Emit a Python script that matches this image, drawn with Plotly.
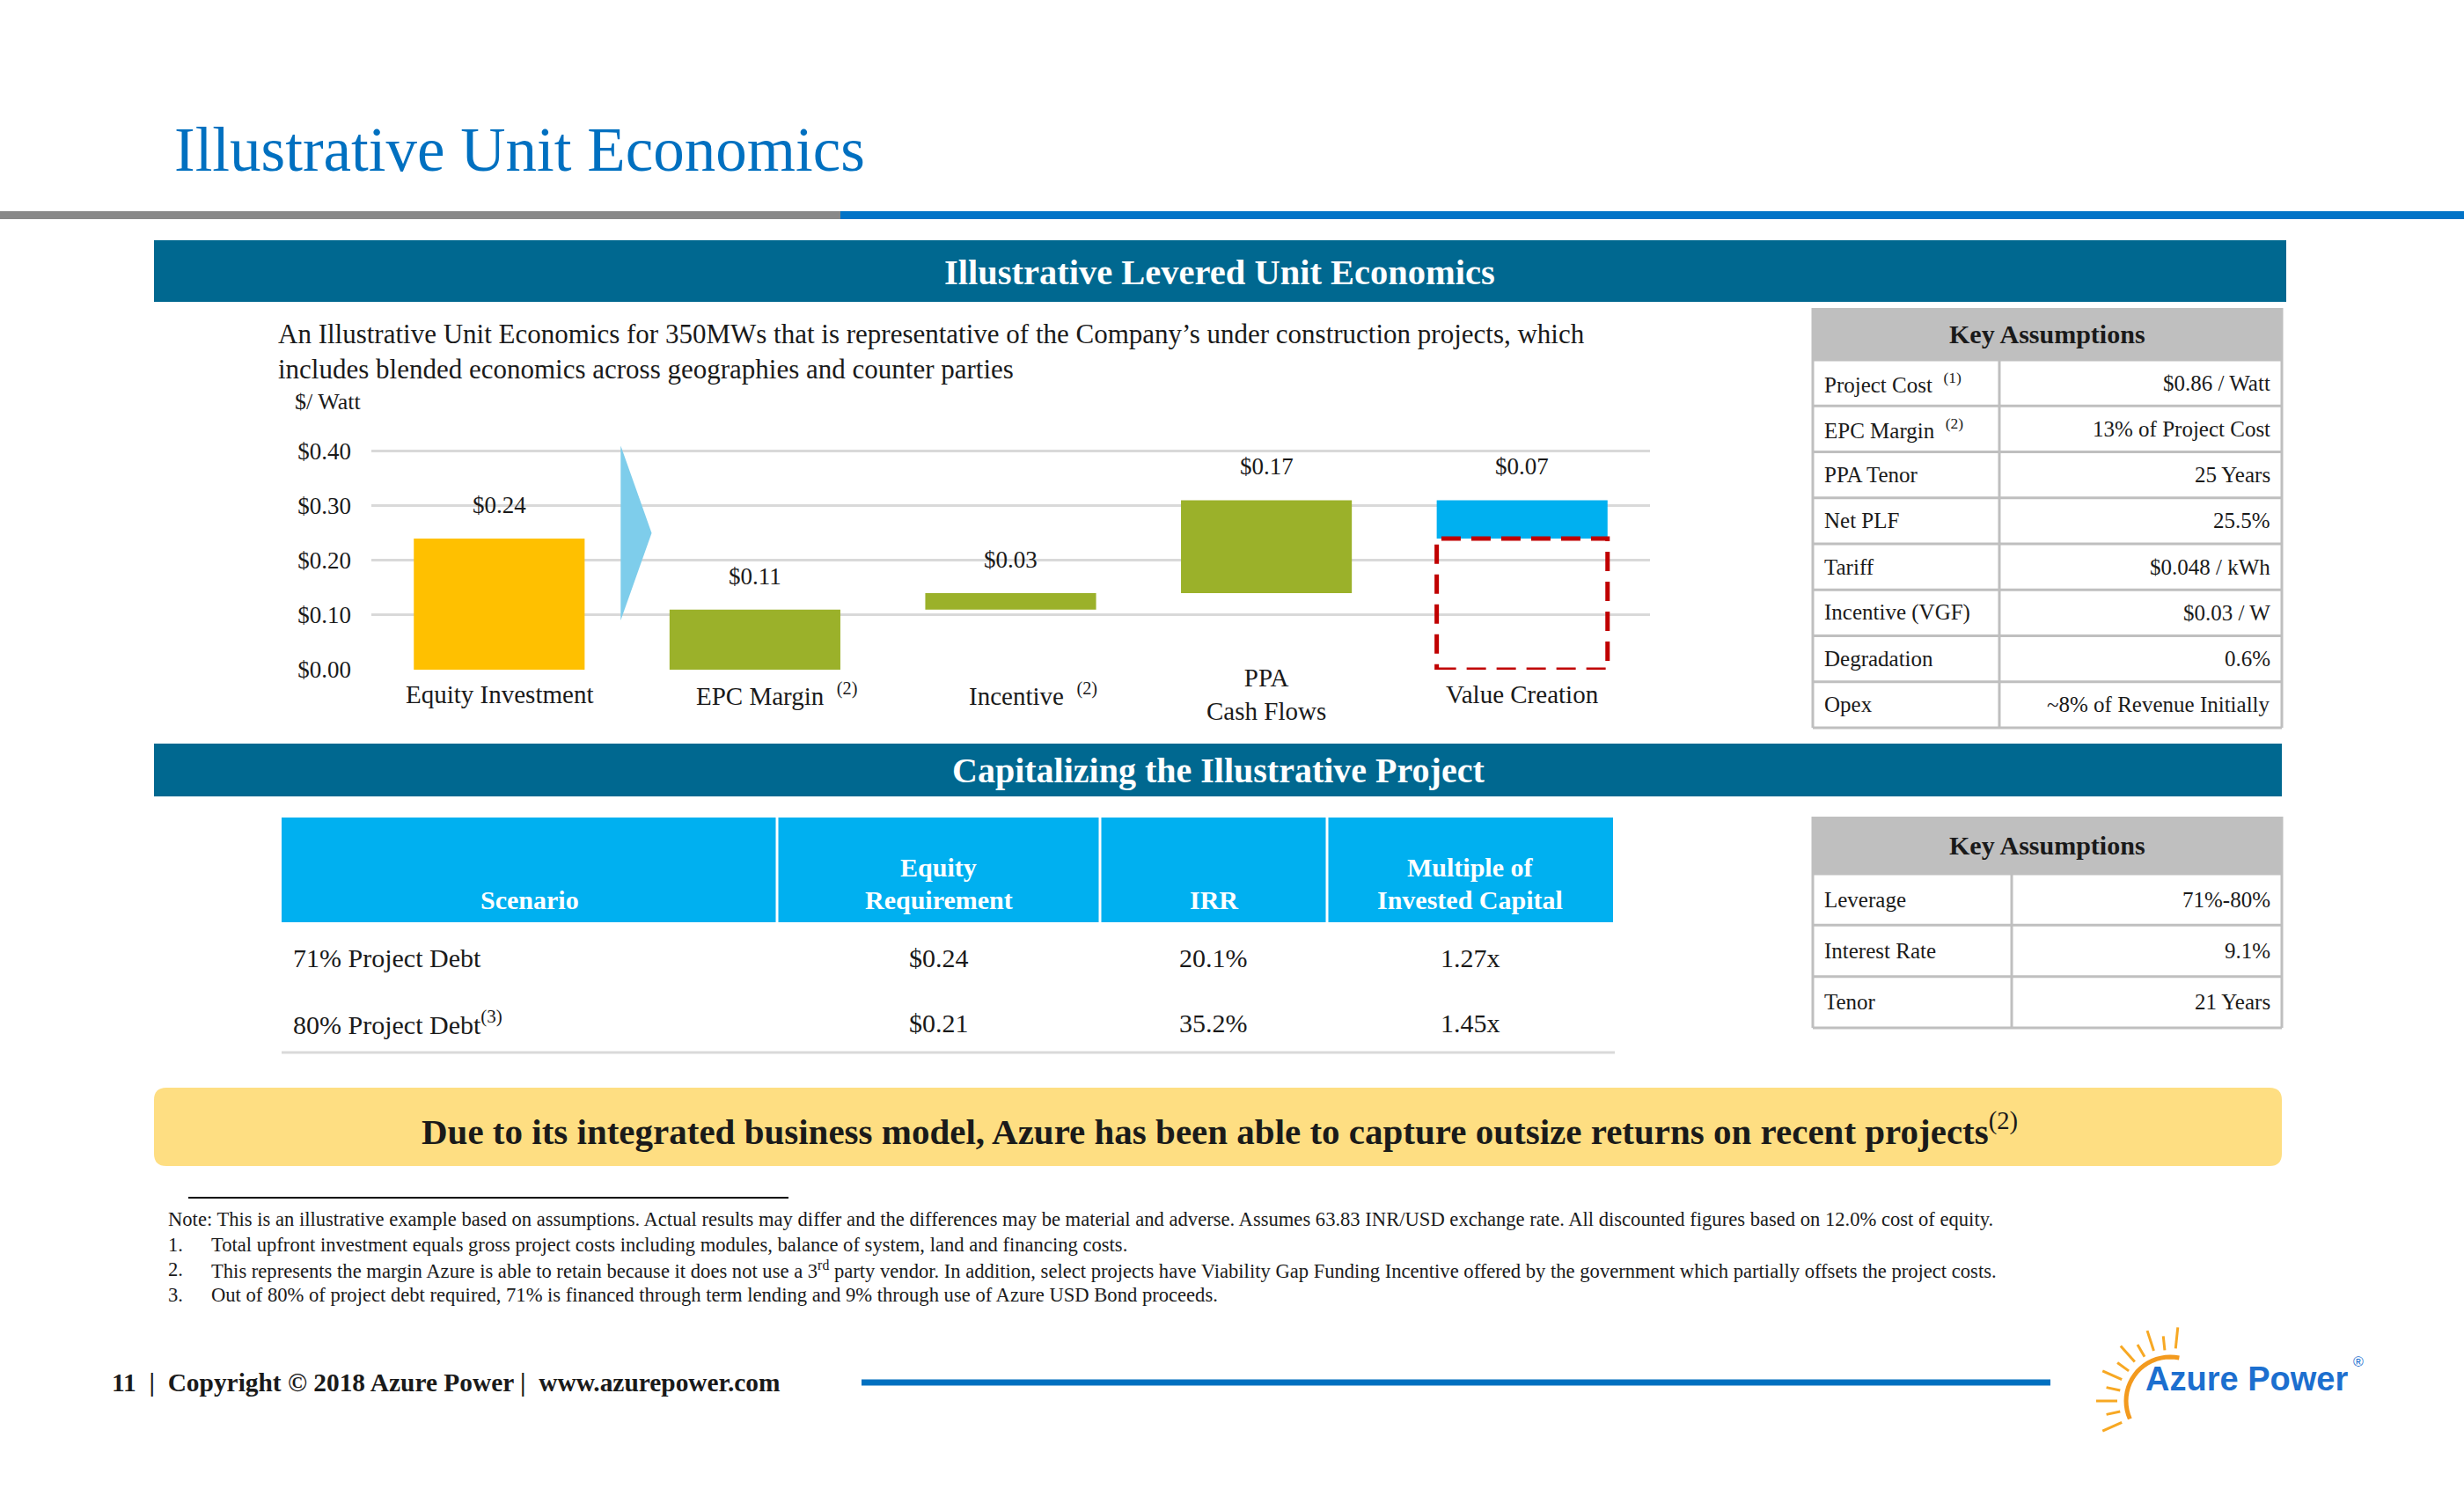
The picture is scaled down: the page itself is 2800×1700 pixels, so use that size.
import math
import plotly.graph_objects as go

W, H = 2800, 1684   # figure height; positions below are in page pixels
SERIF = "Liberation Serif, Times New Roman, serif"
TXT = "#1A1A1A"


def px(x):
    return x / W


def py(y):
    return 1 - y / H


# ---------------- data ----------------
categories = ["Equity Investment", "EPC Margin", "Incentive", "PPA<br>Cash Flows", "Value Creation"]
category_notes = ["", "(2)", "(2)", "", ""]
step_values = [0.24, 0.11, 0.03, 0.17, 0.07]
step_bases = [0.00, 0.00, 0.11, 0.14, 0.24]
value_labels = ["$0.24", "$0.11", "$0.03", "$0.17", "$0.07"]
y_tick_values = [0.0, 0.1, 0.2, 0.3, 0.4]
y_tick_labels = ["$0.00", "$0.10", "$0.20", "$0.30", "$0.40"]

ka1_params = ["Project Cost", "EPC Margin", "PPA Tenor", "Net PLF", "Tariff",
              "Incentive (VGF)", "Degradation", "Opex"]
ka1_notes = ["(1)", "(2)", "", "", "", "", "", ""]
ka1_values = ["$0.86 / Watt", "13% of Project Cost", "25 Years", "25.5%", "$0.048 / kWh",
              "$0.03 / W", "0.6%", "~8% of Revenue Initially"]

ka2_params = ["Leverage", "Interest Rate", "Tenor"]
ka2_values = ["71%-80%", "9.1%", "21 Years"]

scenario_headers = ["Scenario", "Equity<br>Requirement", "IRR", "Multiple of<br>Invested Capital"]
scenarios = ["71% Project Debt", "80% Project Debt"]
scenario_notes = ["", "(3)"]
equity_requirement = ["$0.24", "$0.21"]
irr = ["20.1%", "35.2%"]
moic = ["1.27x", "1.45x"]

title = "Illustrative Unit Economics"
section1 = "Illustrative Levered Unit Economics"
section2 = "Capitalizing the Illustrative Project"
description = ("An Illustrative Unit Economics for 350MWs that is representative of the Company’s under construction projects, which"
               "<br>includes blended economics across geographies and counter parties")
unit_label = "$/ Watt"
ka_title = "Key Assumptions"
callout = "Due to its integrated business model, Azure has been able to capture outsize returns on recent projects"
callout_note = "(2)"
footnote_note = ("Note: This is an illustrative example based on assumptions. Actual results may differ and the differences may be "
                 "material and adverse. Assumes 63.83 INR/USD exchange rate. All discounted figures based on 12.0% cost of equity.")
footnotes = [
    "Total upfront investment equals gross project costs including modules, balance of system, land and financing costs.",
    "This represents the margin Azure is able to retain because it does not use a 3<sup>rd</sup> party vendor. In addition, select "
    "projects have Viability Gap Funding Incentive offered by the government which partially offsets the project costs.",
    "Out of 80% of project debt required, 71% is financed through term lending and 9% through use of Azure USD Bond proceeds.",
]
footer = "11  |  Copyright © 2018 Azure Power |  www.azurepower.com"
logo_text = "Azure Power"

# ---------------- styles ----------------
bar_colors = ["#FFC000", "#9BB12A", "#9BB12A", "#9BB12A", "#00B0F0"]
BAR_W = 0.668
HEADER_BLUE = "#006890"
GRID = "#D9D9D9"
TABLE_LINE = "#BFBFBF"

fig = go.Figure()

x_idx = list(range(len(categories)))
fig.add_trace(go.Bar(
    x=x_idx, y=step_values, base=step_bases, width=BAR_W,
    marker=dict(color=bar_colors, line=dict(width=0)),
    hoverinfo="skip", showlegend=False,
))

shapes = []
annotations = []


def rect(x0, y0, x1, y1, color, layer="below"):
    shapes.append(dict(type="rect", xref="paper", yref="paper", x0=px(x0), x1=px(x1), y0=py(y1), y1=py(y0),
                       fillcolor=color, line=dict(width=0), layer=layer))


def hline(x0, x1, y, color, width, layer="above"):
    shapes.append(dict(type="line", xref="paper", yref="paper", x0=px(x0), x1=px(x1), y0=py(y), y1=py(y),
                       line=dict(color=color, width=width), layer=layer))


def vline(x, y0, y1, color, width, layer="above"):
    shapes.append(dict(type="line", xref="paper", yref="paper", x0=px(x), x1=px(x), y0=py(y0), y1=py(y1),
                       line=dict(color=color, width=width), layer=layer))


def text(x, y, s, size, color=TXT, xanchor="left", yanchor="middle", bold=False, family=SERIF):
    annotations.append(dict(xref="paper", yref="paper", x=px(x), y=py(y), text=("<b>%s</b>" % s) if bold else s,
                            showarrow=False, xanchor=xanchor, yanchor=yanchor, align="left",
                            font=dict(family=family, size=size, color=color)))


def sup_join(base, note, gap="&nbsp;&nbsp;"):
    return base + (gap + "<sup>%s</sup>" % note if note else "")


# title & rules
text(196, 170, title, 71, color="#0070C0")
rect(0, 240, 955, 249, "#898989")
rect(955, 240, 2800, 249, "#0173C7")

# section bars
rect(175, 273, 2598, 343, HEADER_BLUE)
text(1386, 309, section1, 40.5, color="white", xanchor="center", bold=True)
rect(175, 845, 2593, 905, HEADER_BLUE)
text(1384, 876, section2, 40, color="white", xanchor="center", bold=True)

# description
text(314, 399, description, 31)
text(333, 456, unit_label, 26)

# chart decorations in data coords
shapes.append(dict(type="path", xref="x", yref="y",
                   path="M 0.475,0.41 L 0.596,0.25 L 0.475,0.09 Z",
                   fillcolor="#7ECDEB", line=dict(width=0), layer="above"))
shapes.append(dict(type="rect", xref="x", yref="y",
                   x0=x_idx[-1] - BAR_W / 2, x1=x_idx[-1] + BAR_W / 2, y0=0, y1=step_bases[-1],
                   line=dict(color="#C00000", width=5, dash="22px,12px"), fillcolor="rgba(0,0,0,0)", layer="above"))

for i, (lab, b, v) in enumerate(zip(value_labels, step_bases, step_values)):
    annotations.append(dict(xref="x", yref="y", x=i, y=b + v, text=lab, showarrow=False, yanchor="middle", yshift=38,
                            font=dict(family=SERIF, size=27, color=TXT)))
for i, (cat, note) in enumerate(zip(categories, category_notes)):
    t = sup_join(cat, note, "&nbsp;&nbsp;")
    annotations.append(dict(xref="x", yref="y", x=i, y=0, text=t, showarrow=False, yanchor="middle", yshift=-28,
                            xshift=25 if note else 0,
                            font=dict(family=SERIF, size=29, color=TXT)))


# ---------------- key assumption tables (grid from row count) ----------------
def kv_table(left, right, divider, top, head_bottom, bottom, params, notes, values):
    rect(left, top, right, head_bottom, TABLE_LINE)
    text((left + right) / 2, (top + head_bottom) / 2, ka_title, 30, xanchor="center", bold=True)
    n = len(params)
    rh = (bottom - head_bottom) / n
    for k in range(n + 1):
        hline(left, right, head_bottom + k * rh, TABLE_LINE, 3)
    vline(left, top, bottom, TABLE_LINE, 3)
    vline(right, top, bottom, TABLE_LINE, 3)
    vline(divider, head_bottom, bottom, TABLE_LINE, 3)
    for k, (p, nt, v) in enumerate(zip(params, notes, values)):
        yc = head_bottom + (k + 0.5) * rh
        text(left + 11, yc, sup_join(p, nt), 25)
        text(right - 11, yc, v, 25, xanchor="right")


kv_table(2060, 2593, 2272, 350, 409, 827, ka1_params, ka1_notes, ka1_values)
kv_table(2060, 2593, 2286, 928, 993, 1168, ka2_params, [""] * len(ka2_params), ka2_values)

# ---------------- scenario table ----------------
sc_left = 320
sc_colw = [563, 367, 258, 325]
sc_edges = [sc_left]
for w in sc_colw:
    sc_edges.append(sc_edges[-1] + w)
sc_head_top, sc_head_bottom = 929, 1048
rect(sc_edges[0], sc_head_top, sc_edges[-1], sc_head_bottom, "#00B0F0")
for e in sc_edges[1:-1]:
    vline(e, sc_head_top, sc_head_bottom, "white", 3)
for c, h in enumerate(scenario_headers):
    xc = (sc_edges[c] + sc_edges[c + 1]) / 2
    lines = h.split("<br>")
    for k, line in enumerate(reversed(lines)):
        text(xc, 1022 - k * 37, line, 30, color="white", xanchor="center", bold=True)
row_y0, row_h = 1051, 74
columns = [[sup_join(s, n, "") for s, n in zip(scenarios, scenario_notes)], equity_requirement, irr, moic]
for c, col in enumerate(columns):
    for r, val in enumerate(col):
        yc = row_y0 + (r + 0.5) * row_h
        if c == 0:
            text(sc_edges[0] + 11, yc, val, 30)
        else:
            text((sc_edges[c] + sc_edges[c + 1]) / 2, yc, val, 30, xanchor="center")
hline(sc_edges[0], sc_edges[-1] + 2, 1196, GRID, 3)

# callout
x0, x1, y0, y1, r = 175, 2593, 1236, 1325, 14
callout_path = (f"M {px(x0 + r)},{py(y0)} L {px(x1 - r)},{py(y0)} Q {px(x1)},{py(y0)} {px(x1)},{py(y0 + r)} "
                f"L {px(x1)},{py(y1 - r)} Q {px(x1)},{py(y1)} {px(x1 - r)},{py(y1)} "
                f"L {px(x0 + r)},{py(y1)} Q {px(x0)},{py(y1)} {px(x0)},{py(y1 - r)} "
                f"L {px(x0)},{py(y0 + r)} Q {px(x0)},{py(y0)} {px(x0 + r)},{py(y0)} Z")
shapes.append(dict(type="path", xref="paper", yref="paper", path=callout_path, fillcolor="#FEDE82",
                   line=dict(width=0), layer="below"))
text(1386, 1283, "<b>%s</b><sup>%s</sup>" % (callout, callout_note), 41, xanchor="center")

# footnotes
hline(214, 896, 1361, "#000000", 2)
text(189, 1385, footnote_note, 22.6)
for k, fn in enumerate(footnotes):
    yy = 1414 + k * 28.6
    text(189, yy, "%d." % (k + 1), 22.6)
    text(238, yy, fn, 22.6)

# footer
text(125, 1571, footer, 29.4, bold=True)
hline(979, 2330, 1571, "#0070C0", 7)

# logo
cx, cy = 2466, 1592
ray_angles = [84, 96, 108, 120, 132, 144, 156, 168, 180, 192, 204]
for j, a in enumerate(ray_angles):
    r0, r1 = (60, 84) if j % 2 == 0 else (58, 74)
    ang = math.radians(a)
    shapes.append(dict(type="line", xref="paper", yref="paper",
                       x0=px(cx + r0 * math.cos(ang)), y0=py(cy - r0 * math.sin(ang)),
                       x1=px(cx + r1 * math.cos(ang)), y1=py(cy - r1 * math.sin(ang)),
                       line=dict(color="#F7A823", width=3), layer="above"))
arc_pts = []
for a in range(78, 206, 6):
    ang = math.radians(a)
    arc_pts.append((px(cx + 50 * math.cos(ang)), py(cy - 50 * math.sin(ang))))
arc_path = "M " + " L ".join("%f,%f" % p for p in arc_pts)
shapes.append(dict(type="path", xref="paper", yref="paper", path=arc_path, line=dict(color="#F39A1E", width=5),
                   layer="above"))
text(2436, 1567, logo_text, 38, color="#1C6FCF", bold=True, family="Liberation Sans, Arial, sans-serif")
text(2672, 1547, "®", 16, color="#1C6FCF", family="Liberation Sans, Arial, sans-serif")

fig.update_layout(
    width=W, height=H, margin=dict(l=0, r=0, t=0, b=0, autoexpand=False),
    paper_bgcolor="white", plot_bgcolor="white", showlegend=False,
    font=dict(family=SERIF, color=TXT),
    xaxis=dict(domain=[px(422), px(1875)], range=[-0.5, 4.5], showgrid=False, zeroline=False,
               showticklabels=False, showline=False, fixedrange=True, automargin=False),
    yaxis=dict(domain=[py(761), py(761 - 0.45 * 621)], range=[0, 0.45], tickvals=y_tick_values,
               ticktext=y_tick_labels, showgrid=True, gridcolor=GRID, gridwidth=3, zeroline=False,
               showline=False, ticks="", ticklabelstandoff=22, fixedrange=True, automargin=False,
               tickfont=dict(family=SERIF, size=27, color=TXT)),
    shapes=shapes, annotations=annotations,
)

fig.write_html("out.html", config={"displayModeBar": False},
               post_script="document.documentElement.style.margin='0px';document.body.style.margin='0px';"
                           "document.body.style.overflow='hidden';")
